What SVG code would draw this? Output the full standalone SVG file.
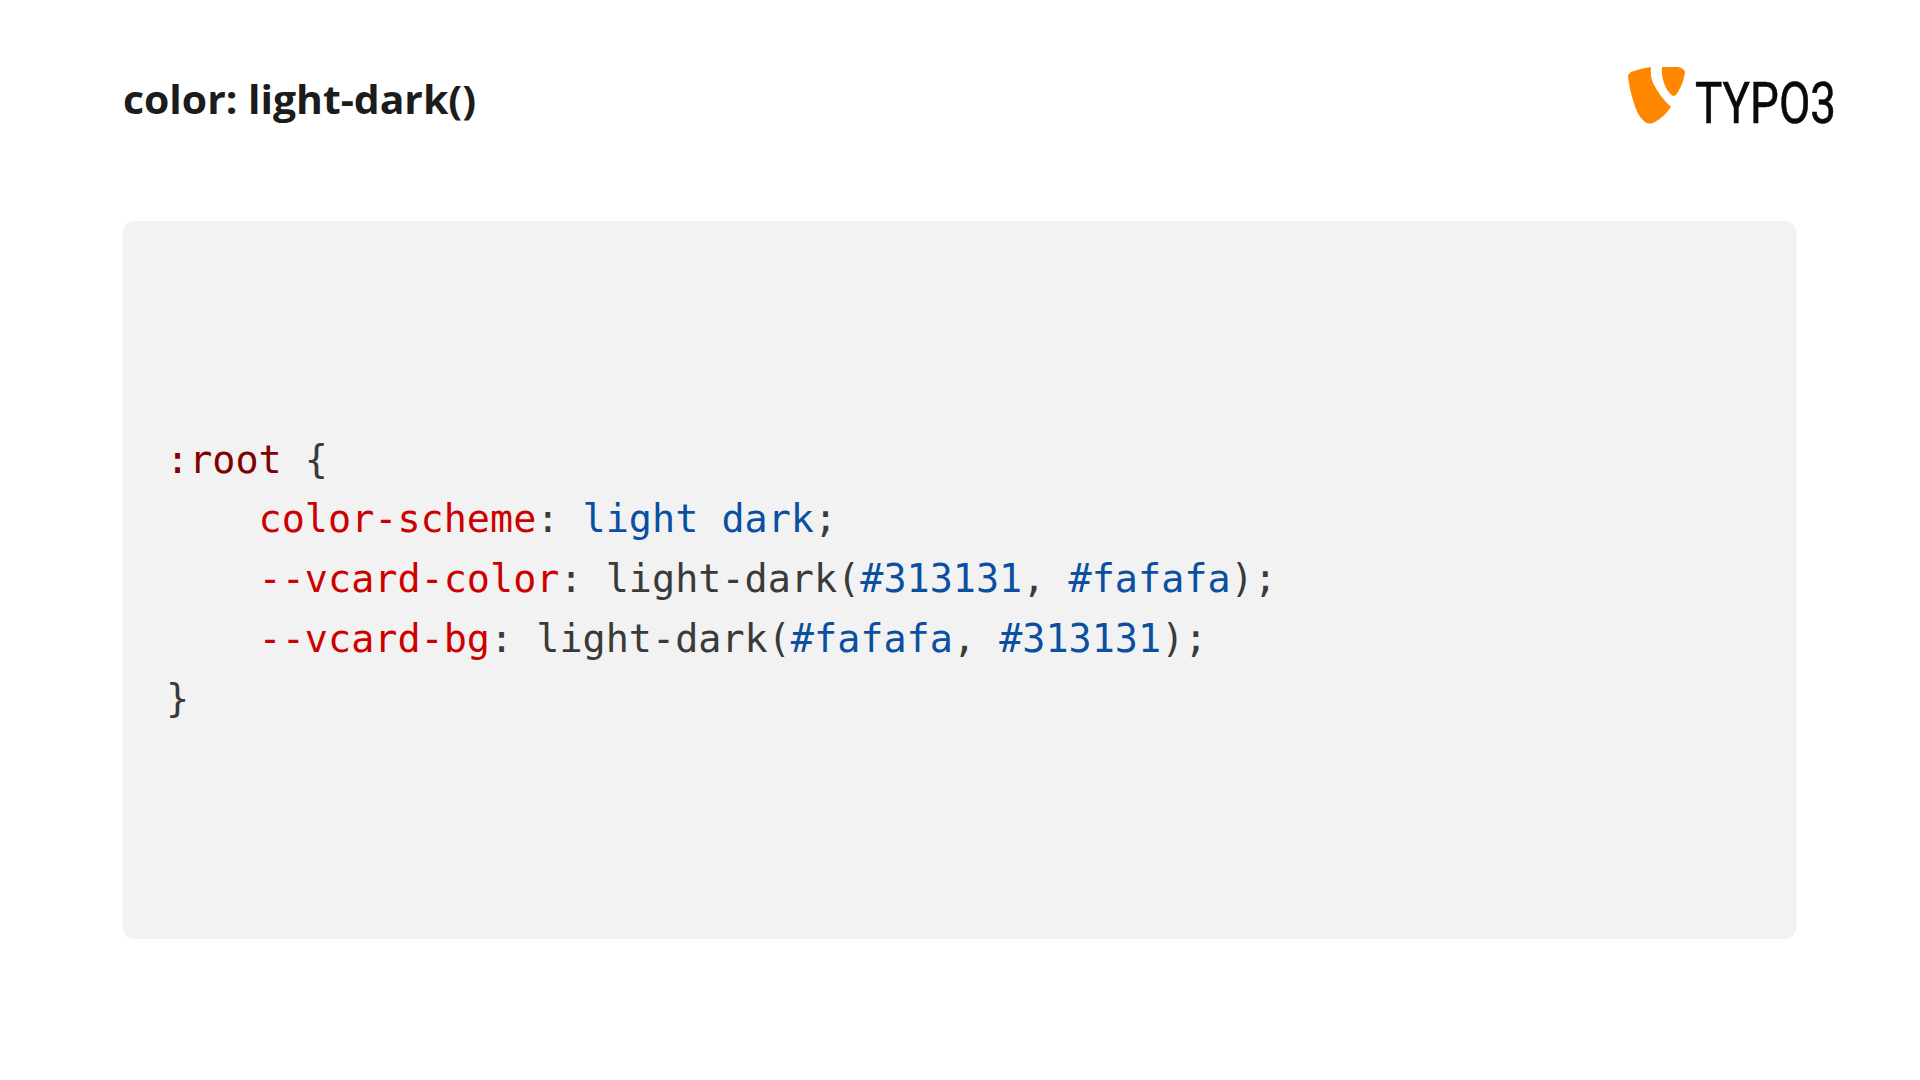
<svg xmlns="http://www.w3.org/2000/svg" width="1920" height="1080" viewBox="0 0 1920 1080">
<style>
.code{font-family:"DejaVu Sans Mono","Liberation Mono",monospace;font-size:38.45px;white-space:pre;fill:#3a3a3a}
.sel{fill:#800000}.prop{fill:#cd0000}.val{fill:#0b4fa0}
.title{font-family:"Open Sans","Noto Sans",sans-serif;font-weight:700;font-size:40px;fill:#1c1c1c}
.word{font-family:"Roboto","Liberation Sans",sans-serif;font-weight:400;font-size:58px;fill:#0a0a0a;stroke:#0a0a0a;stroke-width:.6px}
</style>
<rect width="1920" height="1080" fill="#ffffff"/>
<g id="title"><text class="title" x="123" y="114" textLength="353" lengthAdjust="spacingAndGlyphs">color: light-dark()</text></g>
<g id="logo">
<path d="M1628 76 Q1629 72 1634 71 Q1642 68 1651 67 Q1650 76 1653 83 Q1660 97 1671 107 Q1664 117 1655 122 Q1650 125 1645 122 Q1637 116 1633 100 Q1629 87 1628 76Z" fill="#ff8700"/>
<path d="M1662 67 L1678 67 Q1684 68 1685 72 Q1684 82 1678 92 Q1676 96 1673 96 Q1667 92 1664 83 Q1661 74 1662 67Z" fill="#ff8700"/>
<text class="word" x="1695" y="123" textLength="141" lengthAdjust="spacingAndGlyphs">TYPO3</text>
</g>
<g id="code-panel">
<rect x="122.5" y="221" width="1674" height="718" rx="12" fill="#f2f2f2"/>
<text class="code" x="166" y="472.5"><tspan class="sel">:root</tspan> {</text>
<text class="code" x="166" y="532">    <tspan class="prop">color-scheme</tspan>: <tspan class="val">light dark</tspan>;</text>
<text class="code" x="166" y="592">    <tspan class="prop">--vcard-color</tspan>: light-dark(<tspan class="val">#313131</tspan>, <tspan class="val">#fafafa</tspan>);</text>
<text class="code" x="166" y="652">    <tspan class="prop">--vcard-bg</tspan>: light-dark(<tspan class="val">#fafafa</tspan>, <tspan class="val">#313131</tspan>);</text>
<text class="code" x="166" y="712">}</text>
</g>
</svg>
